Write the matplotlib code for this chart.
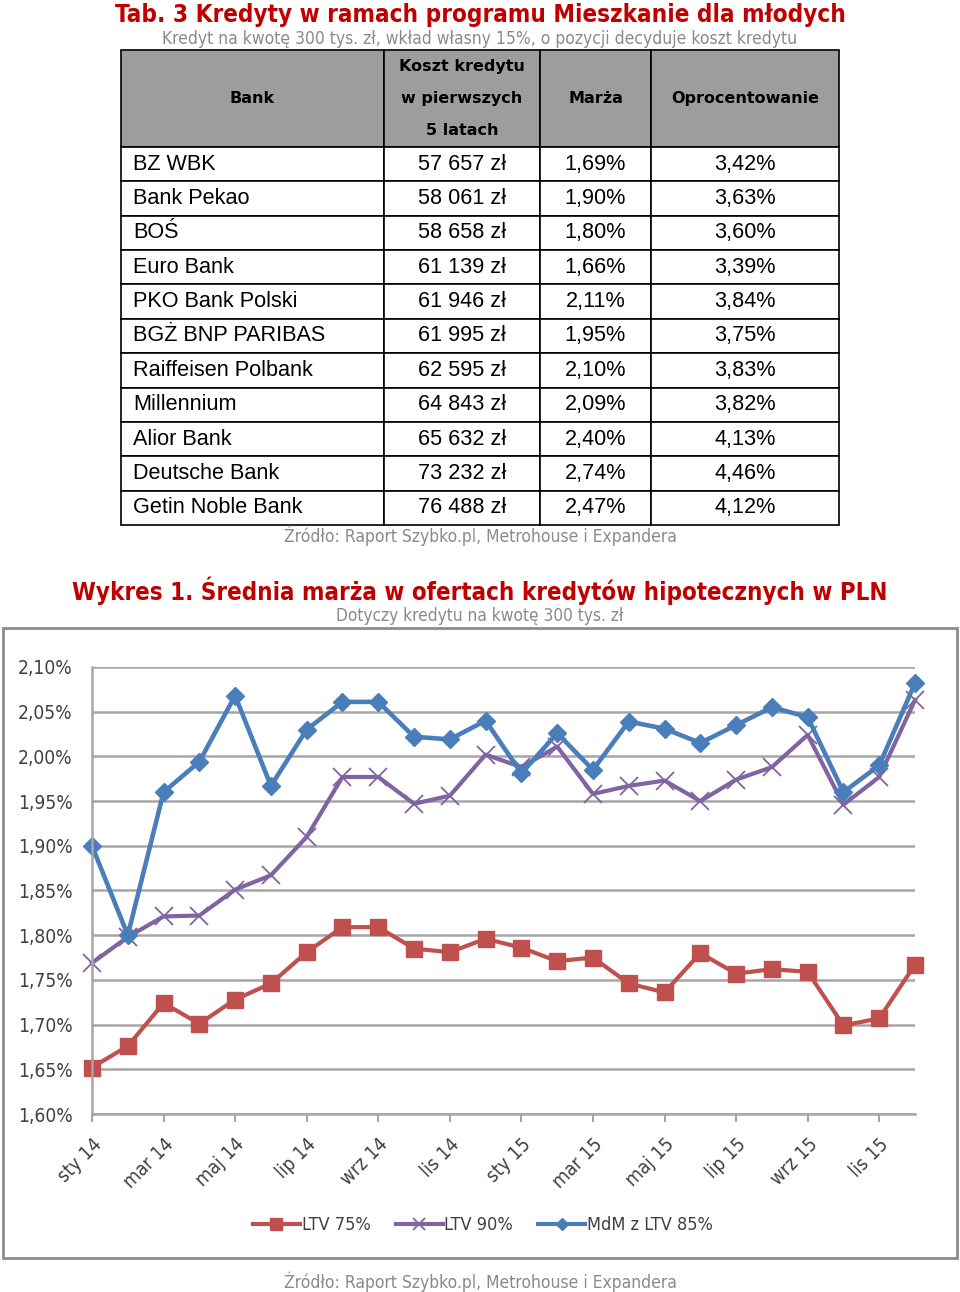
import matplotlib
matplotlib.use("Agg")
import matplotlib.pyplot as plt
import matplotlib.patches as mpatches
from matplotlib.lines import Line2D
from matplotlib.ticker import FuncFormatter

# --- data ----------------------------------------------------------------------

banks = ["BZ WBK", "Bank Pekao", "BOŚ", "Euro Bank", "PKO Bank Polski",
         "BGŻ BNP PARIBAS", "Raiffeisen Polbank", "Millennium", "Alior Bank",
         "Deutsche Bank", "Getin Noble Bank"]
costs = ["57 657 zł", "58 061 zł", "58 658 zł", "61 139 zł", "61 946 zł",
         "61 995 zł", "62 595 zł", "64 843 zł", "65 632 zł", "73 232 zł", "76 488 zł"]
margins = ["1,69%", "1,90%", "1,80%", "1,66%", "2,11%", "1,95%",
           "2,10%", "2,09%", "2,40%", "2,74%", "2,47%"]
rates = ["3,42%", "3,63%", "3,60%", "3,39%", "3,84%", "3,75%",
         "3,83%", "3,82%", "4,13%", "4,46%", "4,12%"]
header = ["Bank", "Koszt kredytu\nw pierwszych\n5 latach", "Marża", "Oprocentowanie"]

months = ["sty 14", "lut 14", "mar 14", "kwi 14", "maj 14", "cze 14",
          "lip 14", "sie 14", "wrz 14", "paź 14", "lis 14", "gru 14",
          "sty 15", "lut 15", "mar 15", "kwi 15", "maj 15", "cze 15",
          "lip 15", "sie 15", "wrz 15", "paź 15", "lis 15", "gru 15"]
ltv75 = [1.652, 1.676, 1.724, 1.701, 1.728, 1.746, 1.781, 1.809, 1.809, 1.785,
         1.781, 1.796, 1.786, 1.771, 1.775, 1.746, 1.736, 1.780, 1.757, 1.762,
         1.759, 1.699, 1.707, 1.767]
ltv90 = [1.769, 1.798, 1.821, 1.822, 1.851, 1.867, 1.910, 1.977, 1.977, 1.947,
         1.956, 2.002, 1.988, 2.011, 1.958, 1.967, 1.973, 1.950, 1.974, 1.988,
         2.024, 1.946, 1.977, 2.063]
mdm85 = [1.900, 1.800, 1.960, 1.994, 2.068, 1.967, 2.030, 2.061, 2.061, 2.022,
         2.019, 2.040, 1.981, 2.026, 1.985, 2.039, 2.031, 2.015, 2.035, 2.055,
         2.044, 1.960, 1.990, 2.082]

RED_T = "#c00000"
GREY_T = "#8a8a8a"
W, H = 960, 1292

fig = plt.figure(figsize=(W / 100, H / 100), dpi=100)
fig.patch.set_facecolor("white")


def fx(px):
    return px / W


def fy(py):
    return 1 - py / H


# --- table ---------------------------------------------------------------------

fig.text(fx(480), fy(15), "Tab. 3 Kredyty w ramach programu Mieszkanie dla młodych",
         ha="center", va="center", color=RED_T, fontsize=17.4, fontweight="bold",
         fontstretch="condensed")
fig.text(fx(480), fy(39), "Kredyt na kwotę 300 tys. zł, wkład własny 15%, o pozycji decyduje koszt kredytu",
         ha="center", va="center", color=GREY_T, fontsize=12.5, fontstretch="condensed")

tax = fig.add_axes([fx(121), fy(525), fx(718), 475 / H])
tax.axis("off")
rows = [list(r) for r in zip(banks, costs, margins, rates)]
tbl = tax.table(cellText=rows, colLabels=header, bbox=[0, 0, 1, 1],
                cellLoc="center")
tbl.auto_set_font_size(False)
col_w = [263, 156, 111, 188]
for (r, c), cell in tbl.get_celld().items():
    cell.set_width(col_w[c])
    cell.set_edgecolor("black")
    cell.set_linewidth(1.2)
    if r == 0:
        cell.set_height(97)
        cell.set_facecolor("#9d9d9d")
        cell.set_text_props(fontsize=11.5, fontweight="bold", linespacing=2.4,
                            color="black")
    else:
        cell.set_height(34.4)
        cell.set_text_props(fontsize=15.6, family="Liberation Sans")
        if c == 0:
            cell._loc = "left"
            cell.PAD = 0.045
            cell.get_text().set_ha("left")

fig.text(fx(480), fy(536), "Źródło: Raport Szybko.pl, Metrohouse i Expandera",
         ha="center", va="center", color=GREY_T, fontsize=12.5, fontstretch="condensed")

# --- chart ---------------------------------------------------------------------

fig.text(fx(480), fy(591), "Wykres 1. Średnia marża w ofertach kredytów hipotecznych w PLN",
         ha="center", va="center", color=RED_T, fontsize=17.3, fontweight="bold",
         fontstretch="condensed")
fig.text(fx(480), fy(616), "Dotyczy kredytu na kwotę 300 tys. zł",
         ha="center", va="center", color=GREY_T, fontsize=12.4, fontstretch="condensed")

fig.patches.append(mpatches.Rectangle((fx(3), fy(1258)), fx(954), 630 / H,
                                      transform=fig.transFigure, fill=False,
                                      edgecolor="#8c8c8c", linewidth=2))

ax = fig.add_axes([fx(92), fy(1114), fx(823), 447 / H])
x = range(len(months))
ax.plot(x, ltv75, color="#c0504d", lw=3, marker="s", ms=11, clip_on=False,
        label="LTV 75%")
ax.plot(x, ltv90, color="#8064a2", lw=3, marker="x", ms=13, mew=1.3, clip_on=False,
        label="LTV 90%")
ax.plot(x, mdm85, color="#4a7ebb", lw=3.3, marker="D", ms=9, clip_on=False,
        label="MdM z LTV 85%")

ax.set_xlim(0, len(months) - 1)
ax.set_ylim(1.60, 2.10)
ax.set_yticks([1.60 + 0.05 * i for i in range(11)])
ax.yaxis.set_major_formatter(FuncFormatter(lambda v, p: f"{v:.2f}%".replace(".", ",")))
ax.grid(axis="y", color="#a6a6a6", lw=1.8)
ax.set_axisbelow(True)
for s in ["top", "right"]:
    ax.spines[s].set_visible(False)
ax.spines["left"].set_color("#a6a6a6")
ax.spines["left"].set_linewidth(1.8)
ax.spines["bottom"].set_color("#a6a6a6")
ax.spines["bottom"].set_linewidth(1.8)
ax.tick_params(axis="y", length=0, pad=14, labelsize=13.8, labelcolor="#404040")
ax.set_xticks(list(x)[::2])
ax.set_xticklabels(months[::2], rotation=45, ha="right", rotation_mode="anchor",
                   fontsize=13.8, color="#404040")
ax.tick_params(axis="x", length=6, width=1.5, color="#a6a6a6", pad=9)
for lbl in ax.get_xticklabels() + ax.get_yticklabels():
    lbl.set_fontstretch("condensed")

handles = [
    Line2D([], [], color="#c0504d", lw=3, marker="s", ms=8),
    Line2D([], [], color="#8064a2", lw=3, marker="x", ms=9, mew=1.3),
    Line2D([], [], color="#4a7ebb", lw=3, marker="D", ms=6),
]
leg = fig.legend(handles, ["LTV 75%", "LTV 90%", "MdM z LTV 85%"],
                 loc="center", bbox_to_anchor=(fx(483), fy(1225)), ncol=3,
                 frameon=False, fontsize=13, handlelength=2.6, columnspacing=1.4,
                 handletextpad=0.1)
for t in leg.get_texts():
    t.set_color("#404040")
    t.set_fontstretch("condensed")

fig.text(fx(480), fy(1282), "Źródło: Raport Szybko.pl, Metrohouse i Expandera",
         ha="center", va="center", color=GREY_T, fontsize=12.5, fontstretch="condensed")

fig.savefig("out.png", dpi=100, facecolor="white")
